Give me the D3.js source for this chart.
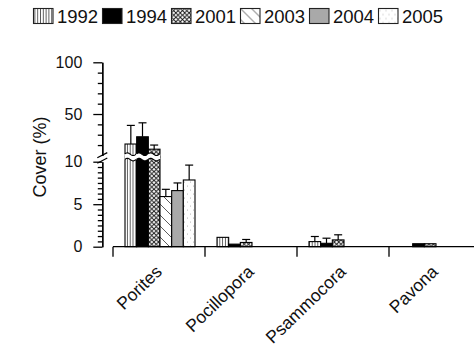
<!DOCTYPE html>
<html>
<head>
<meta charset="utf-8">
<script src="https://cdn.jsdelivr.net/npm/d3@7"></script>
<style>
  body { margin: 0; background: #fff; }
  text { font-family: "Liberation Sans", Arial, sans-serif; fill: #111; }
</style>
</head>
<body>
<div id="chart"></div>
<script>
// data
const species = ['Porites', 'Pocillopora', 'Psammocora', 'Pavona']
const years = ['1992', '1994', '2001', '2003', '2004', '2005']

const cover1992 = [21, 1.1, 0.6, 0]
const cover1994 = [28, 0.3, 0.4, 0.35]
const cover2001 = [16, 0.5, 0.8, 0.35]
const cover2003 = [5.9, 0, 0, 0]
const cover2004 = [6.6, 0, 0, 0]
const cover2005 = [7.85, 0, 0, 0]

const err1992 = [18, 0, 0.6, 0]
const err1994 = [13.5, 0, 0.6, 0]
const err2001 = [4, 0.35, 0.6, 0]
const err2003 = [0.85, 0, 0, 0]
const err2004 = [0.9, 0, 0, 0]
const err2005 = [1.75, 0, 0, 0]

const lowerTicks = [0, 5, 10]
const upperTicks = [50, 100]

const coverByYear = [cover1992, cover1994, cover2001, cover2003, cover2004, cover2005]
const errByYear = [err1992, err1994, err2001, err2003, err2004, err2005]

const width = 474, height = 347

// broken y axis: linear 0-10 below, linear 10-100 above
const yLow = d3.scaleLinear().domain([0, 10]).range([246.7, 161.7])
const yHigh = d3.scaleLinear().domain([10, 100]).range([155.4, 62.3])
const yv = v => v <= 10 ? yLow(v) : yHigh(v)

const x = d3.scaleBand().domain(species).range([113, 113 + 4 * 92])
const xSub = d3.scaleBand().domain(years).range([12, 82])

const svg = d3.select('#chart').append('svg')
    .attr('width', width)
    .attr('height', height)

// fill patterns
const defs = svg.append('defs')
const fills = {}

let p = defs.append('pattern').attr('id', 'p1992').attr('patternUnits', 'userSpaceOnUse')
    .attr('width', 2.8).attr('height', 10)
p.append('rect').attr('width', 2.8).attr('height', 10).attr('fill', '#fff')
p.append('line').attr('x1', 1.4).attr('x2', 1.4).attr('y1', 0).attr('y2', 10)
    .attr('stroke', '#333').attr('stroke-width', 0.8)
fills['1992'] = 'url(#p1992)'

fills['1994'] = '#000'

p = defs.append('pattern').attr('id', 'p2001').attr('patternUnits', 'userSpaceOnUse')
    .attr('width', 4.4).attr('height', 4.4)
p.append('rect').attr('width', 4.4).attr('height', 4.4).attr('fill', '#fff')
p.append('path').attr('d', 'M0,0L4.4,4.4M0,4.4L4.4,0')
    .attr('stroke', '#111').attr('stroke-width', 0.9)
fills['2001'] = 'url(#p2001)'

p = defs.append('pattern').attr('id', 'p2003').attr('patternUnits', 'userSpaceOnUse')
    .attr('width', 11).attr('height', 11)
p.append('rect').attr('width', 11).attr('height', 11).attr('fill', '#fff')
p.append('path').attr('d', 'M0,0L11,11M-5.5,5.5L5.5,16.5M5.5,-5.5L16.5,5.5')
    .attr('stroke', '#333').attr('stroke-width', 0.8)
fills['2003'] = 'url(#p2003)'

fills['2004'] = '#a9a9a9'

p = defs.append('pattern').attr('id', 'p2005').attr('patternUnits', 'userSpaceOnUse')
    .attr('width', 6).attr('height', 8)
p.append('rect').attr('width', 6).attr('height', 8).attr('fill', '#fff')
p.append('circle').attr('cx', 1.5).attr('cy', 2).attr('r', 0.5).attr('fill', '#999')
p.append('circle').attr('cx', 4.5).attr('cy', 6).attr('r', 0.5).attr('fill', '#999')
fills['2005'] = 'url(#p2005)'

// flatten into bar records
const bars = []
years.forEach((yr, j) => {
    species.forEach((sp, i) => {
        bars.push({ year: yr, species: sp, value: coverByYear[j][i], err: errByYear[j][i] })
    })
})
const shown = bars.filter(d => d.value > 0)

const breakTop = 157   // where upper/lower bar pieces meet (hidden under the wavy gap)

// bars (lower pieces and unbroken bars)
svg.append('g').selectAll('rect.low')
    .data(shown)
    .join('rect')
    .attr('x', d => x(d.species) + xSub(d.year))
    .attr('width', xSub.bandwidth())
    .attr('y', d => d.value > 10 ? breakTop : yLow(d.value))
    .attr('height', d => yLow(0) - (d.value > 10 ? breakTop : yLow(d.value)))
    .attr('fill', d => fills[d.year])
    .attr('stroke', '#000')
    .attr('stroke-width', 1.1)

// upper pieces of the broken bars
const tall = shown.filter(d => d.value > 10)
svg.append('g').selectAll('rect')
    .data(tall)
    .join('rect')
    .attr('x', d => x(d.species) + xSub(d.year))
    .attr('width', xSub.bandwidth())
    .attr('y', d => yHigh(d.value))
    .attr('height', d => breakTop - yHigh(d.value))
    .attr('fill', d => fills[d.year])
    .attr('stroke', '#000')
    .attr('stroke-width', 1.1)

// wavy white gap across the broken bars
function wave(x0, x1, yc) {
    const pts = d3.range(x0, x1 + 0.01, 0.5).map(xx => [xx, yc - 1.3 * Math.sin((xx - x0) / xSub.bandwidth() * 2 * Math.PI)])
    return pts
}
tall.forEach(d => {
    const x0 = x(d.species) + xSub(d.year) - 0.6
    const x1 = x0 + xSub.bandwidth() + 1.2
    const top = wave(x0, x1, 154.2)
    const bot = wave(x0, x1, 159.6)
    svg.append('path')
        .attr('d', d3.line()(top.concat(bot.slice().reverse())) + 'Z')
        .attr('fill', '#fff')
    svg.append('path').attr('d', d3.line()(top.slice(1, -1))).attr('fill', 'none').attr('stroke', '#000').attr('stroke-width', 1.1)
    svg.append('path').attr('d', d3.line()(bot.slice(1, -1))).attr('fill', 'none').attr('stroke', '#000').attr('stroke-width', 1.1)
})

// error bars (upper side only)
const withErr = shown.filter(d => d.err > 0)
const eb = svg.append('g').attr('stroke', '#000').attr('stroke-width', 1.2)
eb.selectAll('line.v')
    .data(withErr)
    .join('line')
    .attr('x1', d => x(d.species) + xSub(d.year) + xSub.bandwidth() / 2)
    .attr('x2', d => x(d.species) + xSub(d.year) + xSub.bandwidth() / 2)
    .attr('y1', d => yv(d.value))
    .attr('y2', d => yv(d.value + d.err))
eb.selectAll('line.cap')
    .data(withErr)
    .join('line')
    .attr('x1', d => x(d.species) + xSub(d.year) + xSub.bandwidth() / 2 - 4)
    .attr('x2', d => x(d.species) + xSub(d.year) + xSub.bandwidth() / 2 + 4)
    .attr('y1', d => yv(d.value + d.err))
    .attr('y2', d => yv(d.value + d.err))

// y axis, two pieces
const axX = 102.3
const lowMinor = d3.range(0, 10.01, 0.625).filter(v => !lowerTicks.includes(v))
const highMinor = d3.range(20, 100, 10).filter(v => !upperTicks.includes(v))

function styleAxis(g) {
    g.selectAll('path, line').attr('stroke', '#000').attr('stroke-width', 1.3)
    g.selectAll('text').style('font-size', '16px').attr('fill', '#111')
        .style('font-family', '"Liberation Sans", Arial, sans-serif')
}

svg.append('g').attr('transform', `translate(${axX},0)`)
    .call(d3.axisLeft(yLow).tickValues(lowerTicks).tickSize(9).tickSizeOuter(0).tickPadding(11))
    .call(styleAxis)
svg.append('g').attr('transform', `translate(${axX},0)`)
    .call(d3.axisLeft(yLow).tickValues(lowMinor).tickSize(4.5).tickSizeOuter(0).tickFormat(''))
    .call(styleAxis)
svg.append('g').attr('transform', `translate(${axX},0)`)
    .call(d3.axisLeft(yHigh).tickValues(upperTicks).tickSize(9).tickSizeOuter(0).tickPadding(11))
    .call(styleAxis)
svg.append('g').attr('transform', `translate(${axX},0)`)
    .call(d3.axisLeft(yHigh).tickValues(highMinor).tickSize(4.5).tickSizeOuter(0).tickFormat(''))
    .call(styleAxis)

// break marks on the axis
;[155.2, 160.6].forEach(yc => {
    svg.append('line')
        .attr('x1', axX - 5).attr('x2', axX + 5)
        .attr('y1', yc + 2.6).attr('y2', yc - 2.6)
        .attr('stroke', '#000').attr('stroke-width', 1.2)
})

// x axis: ticks sit on the category boundaries
const xAxisY = yLow(0)
svg.append('line')
    .attr('x1', x.range()[0]).attr('x2', width)
    .attr('y1', xAxisY).attr('y2', xAxisY)
    .attr('stroke', '#000').attr('stroke-width', 1.3)
svg.append('g').selectAll('line')
    .data(species)
    .join('line')
    .attr('x1', d => x(d)).attr('x2', d => x(d))
    .attr('y1', xAxisY).attr('y2', xAxisY + 10)
    .attr('stroke', '#000').attr('stroke-width', 1.3)

svg.append('g').selectAll('text')
    .data(species)
    .join('text')
    .attr('transform', d => `translate(${x(d) + x.bandwidth() / 2 + 4},273) rotate(-44)`)
    .attr('text-anchor', 'end')
    .style('font-size', '17.5px')
    .text(d => d)

// y label
svg.append('text')
    .attr('transform', 'translate(46,157) rotate(-90)')
    .attr('text-anchor', 'middle')
    .style('font-size', '18px')
    .text('Cover (%)')

// legend across the top
const leg = svg.append('g').selectAll('g')
    .data(years)
    .join('g')
    .attr('transform', (d, i) => `translate(${33.5 + i * 69},8.5)`)
leg.append('rect')
    .attr('width', 19.5).attr('height', 15)
    .attr('fill', d => fills[d])
    .attr('stroke', '#222').attr('stroke-width', 1.1)
leg.append('text')
    .attr('x', 23.5).attr('y', 14.5)
    .style('font-size', '18.5px')
    .text(d => d)
</script>
</body>
</html>
